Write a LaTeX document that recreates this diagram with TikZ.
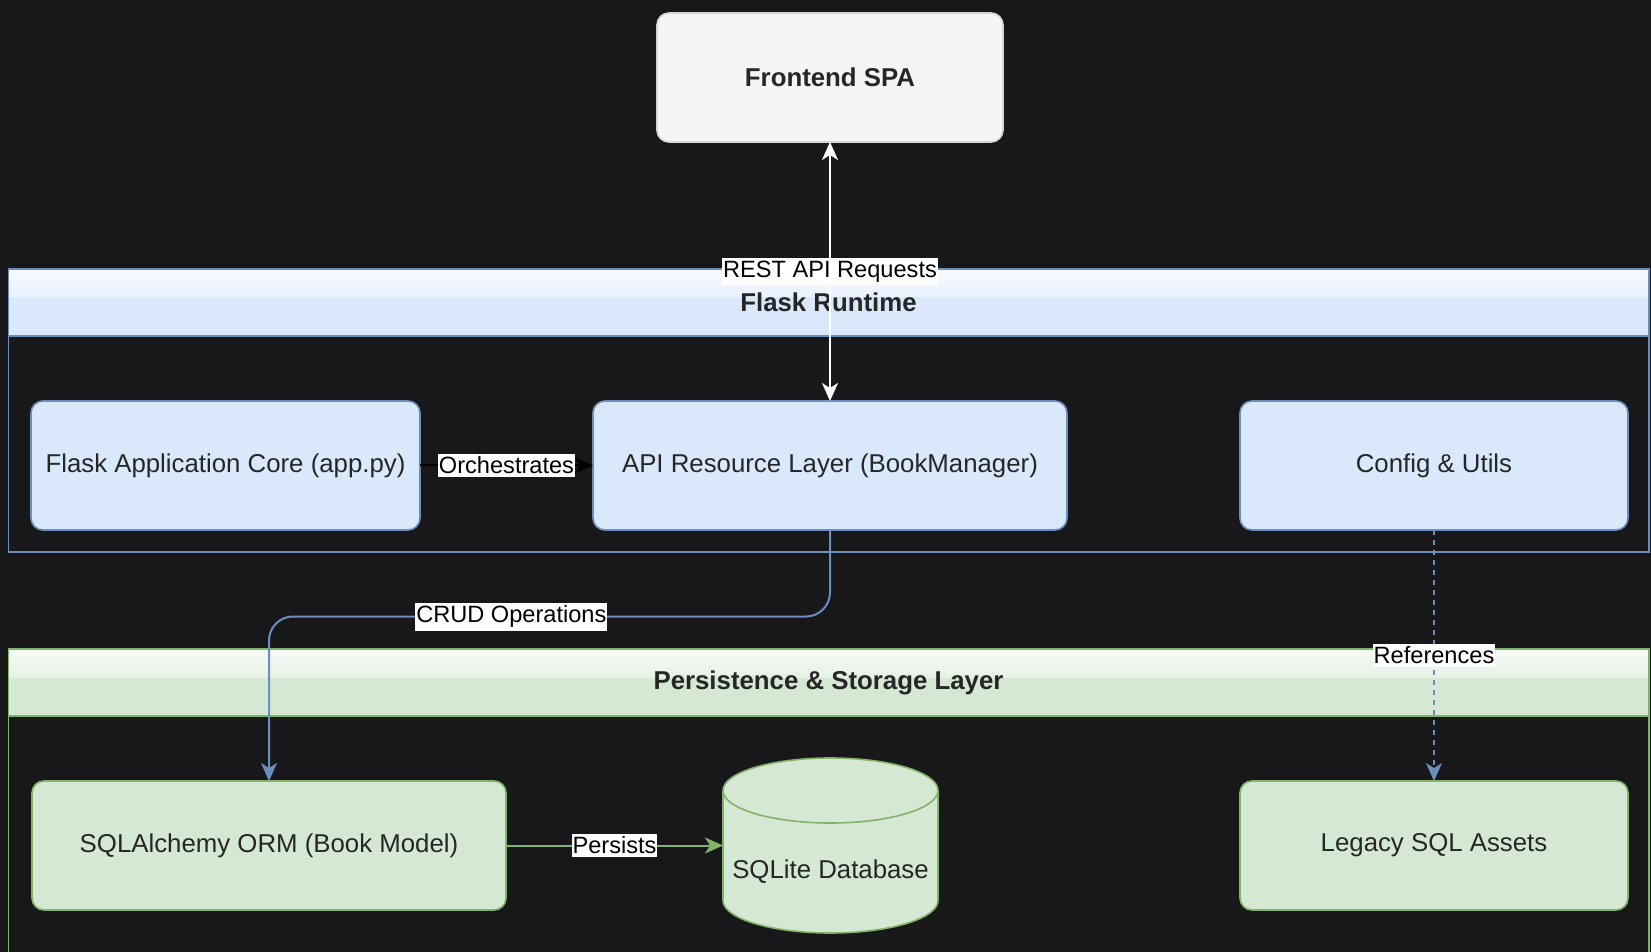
\documentclass[tikz,border=0pt]{standalone}
\usepackage{fontspec}
\setmainfont{Liberation Sans}
\usepackage{tikz}
\usetikzlibrary{positioning,arrows.meta}
\definecolor{bgdark}{RGB}{24,24,27}
\definecolor{bluefill}{HTML}{DAE8FC}
\definecolor{blueline}{HTML}{6C8EBF}
\definecolor{greenfill}{HTML}{D5E8D4}
\definecolor{greenline}{HTML}{82B366}
\definecolor{greyfill}{HTML}{F5F5F5}
\definecolor{greyline}{HTML}{D6D6D6}
\tikzset{basic/.style={draw,rounded corners=6pt,minimum height=64.5pt,inner sep=0pt,outer sep=0pt,line width=0.8pt,text=black!85,font=\fontsize{12.9}{15}\selectfont}}
\tikzset{runtime/.style={basic,fill=bluefill,draw=blueline}}
\tikzset{storage/.style={basic,fill=greenfill,draw=greenline}}
\tikzset{client/.style={basic,fill=greyfill,draw=greyline,font=\fontsize{12.9}{15}\selectfont\bfseries}}
\tikzset{lanetitle/.style={text=black!85,font=\fontsize{12.9}{15}\selectfont\bfseries}}
\tikzset{edgelabel/.style={fill=white,text=black,sharp corners,inner xsep=0.5pt,inner ysep=1.5pt,font=\fontsize{11.8}{14}\selectfont}}
\tikzset{flow/.style={-{Stealth[length=9pt,width=8pt,inset=2.5pt]},line width=1pt}}
\tikzset{twoway/.style={{Stealth[length=9pt,width=8pt,inset=2.5pt]}-{Stealth[length=9pt,width=8pt,inset=2.5pt]},line width=1pt}}

\begin{document}
\begin{tikzpicture}[x=0.5pt,y=-0.5pt]
        \fill[bgdark] (0,0) rectangle (1651,952);
        \useasboundingbox (0,0) rectangle (1651,952);
        \fill[bluefill] (8.5,269) rectangle (1649,336);
        \shade[top color=white!80!bluefill,bottom color=white!40!bluefill] (8.5,269) rectangle (1649,297);
        \draw[blueline,line width=0.8pt] (8.5,269) rectangle (1649,552);
        \draw[blueline,line width=0.8pt] (8.5,336) -- (1649,336);
        \node[lanetitle] (flasklane) at (828.5,302.5) {Flask Runtime};
        \fill[greenfill] (8.5,649) rectangle (1649,716);
        \shade[top color=white!80!greenfill,bottom color=white!40!greenfill] (8.5,649) rectangle (1649,677);
        \draw[greenline,line width=0.8pt] (8.5,952) -- (8.5,649) -- (1649,649) -- (1649,952);
        \draw[greenline,line width=0.8pt] (8.5,716) -- (1649,716);
        \node[lanetitle] (storelane) at (828.5,682.5) {Persistence \& Storage Layer};
        \node[client,minimum width=173pt] (spa) at (830,77.5) {Frontend SPA};
        \node[runtime,minimum width=194.5pt] (core) at (225.5,465.5) {Flask Application Core (app.py)};
        \node[runtime,minimum width=237pt,right=86.5pt of core] (api) {API Resource Layer (BookManager)};
        \node[runtime,minimum width=194pt,right=86.5pt of api] (config) {Config \& Utils};
        \node[storage,minimum width=237pt] (orm) at (269,845.5) {SQLAlchemy ORM (Book Model)};
        \node[minimum width=107.5pt,minimum height=87.5pt,inner sep=0pt,outer sep=0pt] (db) at (830.5,845.5) {};
        \draw[greenline,fill=greenfill,line width=0.8pt] ([yshift=-16.25pt]db.north west) -- ([yshift=16.25pt]db.south west)
            arc[start angle=180,end angle=360,x radius=53.75pt,y radius=16.25pt] -- ([yshift=-16.25pt]db.north east)
            arc[start angle=0,end angle=180,x radius=53.75pt,y radius=16.25pt] -- cycle;
        \draw[greenline,line width=0.8pt] ([yshift=-16.25pt]db.north west) arc[start angle=180,end angle=360,x radius=53.75pt,y radius=16.25pt];
        \node[text=black!85,font=\fontsize{12.9}{15}\selectfont] (dbtext) at ([yshift=-13pt]db.center) {SQLite Database};
        \node[storage,minimum width=194pt] (legacy) at (1434,845.5) {Legacy SQL Assets};
            \path[draw,twoway,white] (spa) -- (api) node[midway,edgelabel] {REST API Requests};
            \path[draw,flow,black] (core) -- (api) node[midway,edgelabel] {Orchestrates};
            \path[draw,flow,blueline,rounded corners=12pt] (api.south) -- ++(0,86.5) -| (orm.north) node[pos=0.284,edgelabel] {CRUD Operations};
            \path[draw,flow,blueline,dash pattern=on 2.5pt off 2.5pt] (config) -- (legacy) node[midway,edgelabel] {References};
            \path[draw,flow,greenline] (orm) -- (db) node[midway,edgelabel] {Persists};
    \end{tikzpicture}
\end{document}
